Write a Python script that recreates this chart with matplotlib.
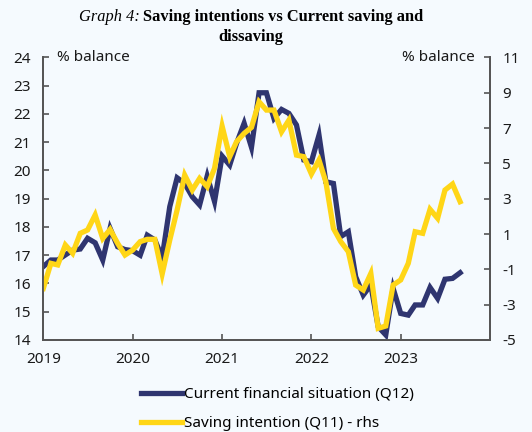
import pandas as pd
import matplotlib
matplotlib.use("Agg")
import matplotlib.pyplot as plt
import matplotlib.dates as mdates

plt.rcParams['font.family'] = ['Noto Sans', 'DejaVu Sans']
plt.rcParams['axes.unicode_minus'] = False

# monthly, Jan 2019 - Sep 2023
dates = pd.date_range('2019-01-01', periods=57, freq='MS')

# current financial situation (Q12), left axis
current = [16.6, 16.83, 16.83, 17.01, 17.18, 17.22, 17.6, 17.44, 16.83, 17.95,
           17.3, 17.2, 17.16, 17.0, 17.71, 17.54, 16.92, 18.72, 19.74, 19.54,
           19.07, 18.78, 19.8, 18.9, 20.51, 20.19, 20.96, 21.67, 20.82, 22.75,
           22.75, 21.84, 22.16, 22.02, 21.61, 20.37, 20.31, 21.25, 19.6, 19.54,
           17.66, 17.83, 16.24, 15.59, 15.95, 14.47, 14.18, 15.83, 14.94, 14.88,
           15.24, 15.24, 15.86, 15.47, 16.15, 16.18, 16.38]

# saving intention (Q11), right axis
saving = [-2.08, -0.66, -0.75, 0.38, -0.09, 1.04, 1.23, 2.08, 0.75, 1.26,
          0.47, -0.19, 0.09, 0.57, 0.7, 0.7, -1.26, 0.66, 2.36, 4.34,
          3.49, 4.15, 3.68, 4.72, 7.11, 5.38, 6.23, 6.7, 7.04, 8.49,
          8.02, 8.02, 6.79, 7.45, 5.47, 5.38, 4.4, 5.19, 3.96, 1.32,
          0.57, 0.0, -1.89, -2.17, -1.23, -4.34, -4.21, -1.89, -1.6, -0.66,
          1.13, 1.04, 2.4, 1.89, 3.49, 3.83, 2.83]

years = [2019, 2020, 2021, 2022, 2023]
left_ticks = list(range(14, 25))
right_ticks = list(range(-5, 12, 2))

bg = '#F5FAFE'
navy = '#2F3570'
yellow = '#FFD617'
spine_col = '#555555'

fig = plt.figure(figsize=(5.32, 4.32), dpi=100, facecolor=bg)
ax = fig.add_axes([0.0814, 0.213, 0.921 - 0.0814, 0.867 - 0.213])
ax.set_facecolor(bg)
ax2 = ax.twinx()

l1, = ax.plot(dates, current, color=navy, lw=3.8, solid_joinstyle='miter',
              label='Current financial situation (Q12)')
l2, = ax2.plot(dates, saving, color=yellow, lw=3.8, solid_joinstyle='miter',
               label='Saving intention (Q11) - rhs')

ax.set_xlim(pd.Timestamp('2019-01-01'), pd.Timestamp('2024-01-01'))
ax.set_ylim(14, 24)
ax2.set_ylim(-5, 11)
ax.set_yticks(left_ticks)
ax2.set_yticks(right_ticks)
ax.set_xticks([pd.Timestamp(f'{y}-01-01') for y in years])
ax.xaxis.set_major_formatter(mdates.DateFormatter('%Y'))

for a in (ax, ax2):
    a.spines['top'].set_visible(False)
    for s in ('left', 'right', 'bottom'):
        a.spines[s].set_color(spine_col)
        a.spines[s].set_linewidth(1.3)
    a.tick_params(direction='in', length=4, width=1.2, color=spine_col,
                  labelsize=11, labelcolor='#1a1a1a')
ax.tick_params(axis='y', pad=9)
ax2.tick_params(axis='y', pad=9)
ax.tick_params(axis='x', pad=9)

ax.text(0.03, 1.0, '% balance', transform=ax.transAxes, ha='left', va='center',
        fontsize=11, color='#1a1a1a')
ax.text(0.965, 1.0, '% balance', transform=ax.transAxes, ha='right', va='center',
        fontsize=11, color='#1a1a1a')

fig.text(140 / 532, 1 - 17 / 432, 'Graph 4:', ha='right', va='center',
         fontsize=11.8, style='italic', family='Liberation Serif')
fig.text(143 / 532, 1 - 17 / 432, 'Saving intentions vs Current saving and',
         ha='left', va='center', fontsize=11.8, weight='bold', family='Liberation Serif')
fig.text(251 / 532, 1 - 37 / 432, 'dissaving', ha='center', va='center',
         fontsize=11.8, weight='bold', family='Liberation Serif')

fig.legend(handles=[l1, l2], loc='upper left', bbox_to_anchor=(135 / 532, 1 - 381 / 432),
           frameon=False, fontsize=11, handlelength=2.65, handletextpad=0.15,
           labelspacing=0.9, borderaxespad=0)

fig.savefig('out.png', dpi=100, facecolor=bg)
